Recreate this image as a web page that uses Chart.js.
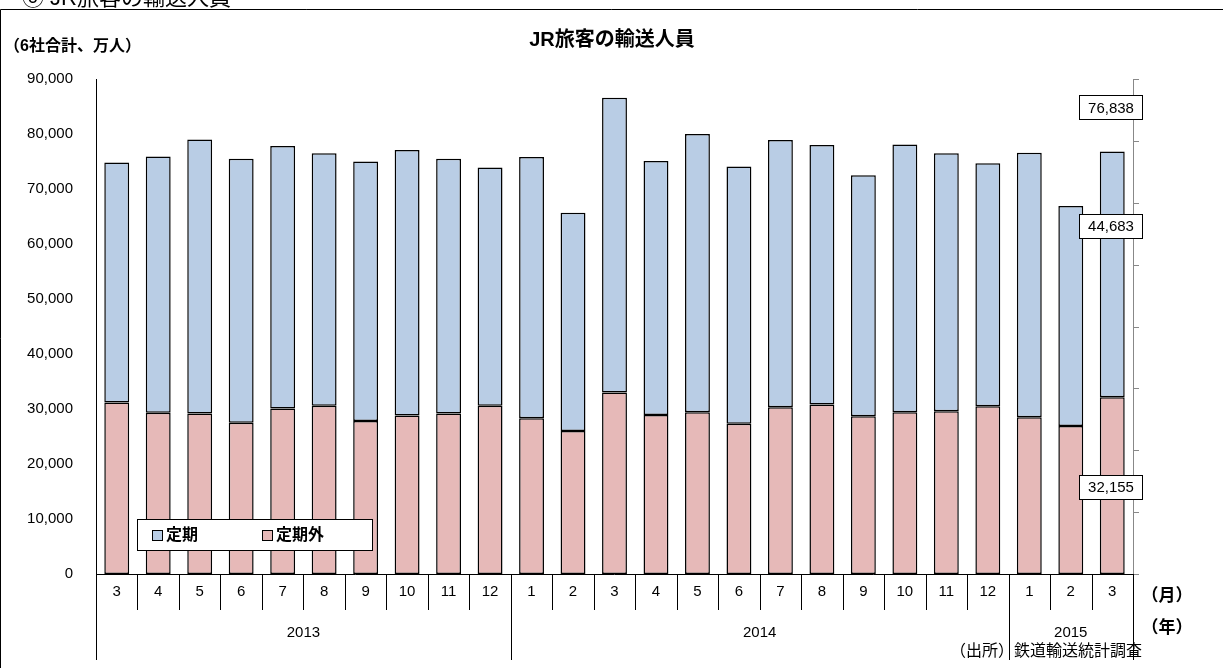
<!DOCTYPE html>
<html><head><meta charset="utf-8">
<script src="https://cdn.jsdelivr.net/npm/chart.js@4"></script>
<style>body{margin:0;background:#fff}#wrap{width:1223px;height:668px}</style>
</head><body><div id="wrap"><canvas id="c"></canvas></div>
<script>
const months = ['3','4','5','6','7','8','9','10','11','12','1','2','3','4','5','6','7','8','9','10','11','12','1','2','3'];
const years = [['2013', 0, 9], ['2014', 10, 21], ['2015', 22, 24]];
const teikigai = [31200,29300,29200,27500,30100,30600,27800,28800,29200,30600,28300,26000,33000,28900,29400,27300,30300,30800,28700,29400,29600,30500,28500,26900,32155];
const teiki = [43600,46600,49800,48000,47700,45900,47200,48300,46300,43300,47500,39700,53600,46200,50600,46800,48600,47200,43800,48700,46900,44200,48100,40000,44683];
const yTicks = [0,10000,20000,30000,40000,50000,60000,70000,80000,90000];
const FONT = '"Liberation Sans", "Noto Sans CJK JP", sans-serif';

const deco = {
  id: 'deco',
  afterDraw(chart) {
    const ctx = chart.ctx, a = chart.chartArea, x = chart.scales.x, y = chart.scales.y;
    ctx.save();
    ctx.strokeStyle = '#000'; ctx.lineWidth = 1;
    // frame (left + top only)
    ctx.beginPath(); ctx.moveTo(0.5, 668); ctx.lineTo(0.5, 9.5); ctx.lineTo(1223, 9.5); ctx.stroke();
    // left axis
    ctx.beginPath(); ctx.moveTo(a.left + .5, a.top); ctx.lineTo(a.left + .5, a.bottom); ctx.stroke();
    // bottom axis
    ctx.beginPath(); ctx.moveTo(a.left, a.bottom + .5); ctx.lineTo(a.right, a.bottom + .5); ctx.stroke();
    // right axis
    ctx.strokeStyle = '#888';
    ctx.beginPath(); ctx.moveTo(a.right + .5, a.top); ctx.lineTo(a.right + .5, a.bottom); ctx.stroke();
    for (let i = 0; i <= 8; i++) {
      const yy = Math.round(a.top + (a.bottom - a.top) * i / 8) + .5;
      ctx.beginPath(); ctx.moveTo(a.right, yy); ctx.lineTo(a.right + 6, yy); ctx.stroke();
    }
    // category grid
    ctx.strokeStyle = '#000';
    const step = (a.right - a.left) / months.length;
    ctx.font = '15px ' + FONT; ctx.fillStyle = '#000'; ctx.textAlign = 'center'; ctx.textBaseline = 'middle';
    for (let i = 0; i <= months.length; i++) {
      const xx = Math.round(a.left + step * i) + .5;
      ctx.beginPath(); ctx.moveTo(xx, a.bottom); ctx.lineTo(xx, a.bottom + 36); ctx.stroke();
    }
    months.forEach((m, i) => ctx.fillText(m, x.getPixelForValue(i), a.bottom + 18));
    years.forEach(([yr, s, e]) => {
      const xx = Math.round(a.left + step * s) + .5;
      ctx.beginPath(); ctx.moveTo(xx, a.bottom); ctx.lineTo(xx, a.bottom + 86); ctx.stroke();
      ctx.fillText(yr, (x.getPixelForValue(s) + x.getPixelForValue(e)) / 2, a.bottom + 59);
    });
    const xe = Math.round(a.right) + .5;
    ctx.beginPath(); ctx.moveTo(xe, a.bottom); ctx.lineTo(xe, a.bottom + 86); ctx.stroke();
    ctx.font = 'bold 17px ' + FONT;
    ctx.fillText('（月）', 1167, 596);
    ctx.fillText('（年）', 1167, 628);
    ctx.font = '16px ' + FONT;
    ctx.textAlign = 'right';
    ctx.fillText('（出所）鉄道輸送統計調査', 1142, 652);
    // y labels
    ctx.font = '15px ' + FONT;
    yTicks.forEach(v => ctx.fillText(v.toLocaleString('en-US'), 73, y.getPixelForValue(v)));
    // titles
    ctx.textAlign = 'left';
    ctx.font = 'bold 16px ' + FONT;
    ctx.fillText('（6社合計、万人）', 4, 47);
    ctx.font = 'bold 20px ' + FONT; ctx.textAlign = 'center';
    ctx.fillText('JR旅客の輸送人員', 612, 40);
    ctx.font = '22px ' + FONT; ctx.textAlign = 'left';
    ctx.fillText('⑥ JR旅客の輸送人員', 22, -1);
    // legend
    ctx.fillStyle = '#fff'; ctx.fillRect(137.5, 519.5, 235, 31); ctx.strokeRect(137.5, 519.5, 235, 31);
    ctx.font = 'bold 16px ' + FONT;
    [['定期', '#b9cde5', 152], ['定期外', '#e6b9b8', 262]].forEach(([t, c, lx]) => {
      ctx.fillStyle = c; ctx.fillRect(lx + .5, 530.5, 10, 10); ctx.strokeRect(lx + .5, 530.5, 10, 10);
      ctx.fillStyle = '#000'; ctx.fillText(t, lx + 14, 536);
    });
    // value boxes
    const last = months.length - 1;
    const total = teiki[last] + teikigai[last];
    const boxes = [[total, y.getPixelForValue(total) - 44], [teiki[last], y.getPixelForValue((total + teikigai[last]) / 2) - 48], [teikigai[last], y.getPixelForValue(teikigai[last] / 2) + 1]];
    ctx.font = '15px ' + FONT; ctx.textAlign = 'center';
    boxes.forEach(([v, cy]) => {
      ctx.fillStyle = '#fff'; ctx.fillRect(1079.5, Math.round(cy - 12) + .5, 63, 24);
      ctx.strokeRect(1079.5, Math.round(cy - 12) + .5, 63, 24);
      ctx.fillStyle = '#000'; ctx.fillText(v.toLocaleString('en-US'), 1111, cy + 1);
    });
    ctx.restore();
  }
};

new Chart(document.getElementById('c'), {
  type: 'bar',
  data: {
    labels: months,
    datasets: [
      { label: '定期外', data: teikigai, backgroundColor: '#e6b9b8', borderColor: '#000', borderWidth: 1.5, borderSkipped: false, barPercentage: 0.6, categoryPercentage: 1 },
      { label: '定期', data: teiki, backgroundColor: '#b9cde5', borderColor: '#000', borderWidth: 1.5, borderSkipped: false, barPercentage: 0.6, categoryPercentage: 1 }
    ]
  },
  options: {
    responsive: true, maintainAspectRatio: false, animation: false,
    layout: { padding: { left: 96, right: 90, top: 79, bottom: 94 } },
    plugins: { legend: { display: false }, tooltip: { enabled: false } },
    scales: {
      x: { stacked: true, display: false },
      y: { stacked: true, display: false, min: 0, max: 90000 }
    }
  },
  plugins: [deco]
});
</script></body></html>
